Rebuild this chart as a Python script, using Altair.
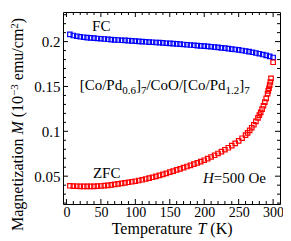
import altair as alt
import pandas as pd

# ---------------- data ----------------
fc_T = [5, 10, 15, 20, 25, 30, 35, 40, 45, 50, 55, 60, 65, 70, 75, 80, 85, 90, 95, 100,
        105, 110, 115, 120, 125, 130, 135, 140, 145, 150, 155, 160, 165, 170, 175, 180,
        185, 190, 195, 200, 205, 210, 215, 220, 225, 230, 235, 240, 245, 250, 255, 260,
        265, 270, 275, 280, 285, 290, 295, 300]
fc_M = [0.2080, 0.2068, 0.2060, 0.2054, 0.2049, 0.2045, 0.2041, 0.2038, 0.2035, 0.2032,
        0.2029, 0.2026, 0.2023, 0.2020, 0.2018, 0.2015, 0.2013, 0.2010, 0.2008, 0.2005,
        0.2003, 0.2000, 0.1998, 0.1995, 0.1993, 0.1990, 0.1988, 0.1985, 0.1982, 0.1980,
        0.1977, 0.1974, 0.1971, 0.1968, 0.1965, 0.1962, 0.1959, 0.1956, 0.1953, 0.1950,
        0.1946, 0.1943, 0.1939, 0.1935, 0.1931, 0.1927, 0.1922, 0.1917, 0.1912, 0.1907,
        0.1901, 0.1895, 0.1888, 0.1881, 0.1873, 0.1865, 0.1856, 0.1846, 0.1835, 0.1823]

zfc_T = [5, 10, 15, 20, 25, 30, 35, 40, 45, 50, 55, 60, 65, 70, 75, 80, 85, 90, 95, 100,
         105, 110, 115, 120, 125, 130, 135, 140, 145, 150, 155, 160, 165, 170, 175, 180,
         185, 190, 195, 200, 205, 210, 215, 220, 225, 230, 235, 240, 245, 250, 255, 260,
         263, 266, 269, 272, 275, 278, 280, 282, 284, 286, 288, 290, 292, 293, 294, 295,
         296, 297, 300]
zfc_M = [0.0393, 0.0390, 0.0388, 0.0387, 0.0386, 0.0386, 0.0386, 0.0387, 0.0389, 0.0391,
         0.0394, 0.0398, 0.0403, 0.0408, 0.0414, 0.0420, 0.0426, 0.0432, 0.0438, 0.0444,
         0.0452, 0.0460, 0.0469, 0.0478, 0.0488, 0.0498, 0.0509, 0.0520, 0.0532, 0.0545,
         0.0557, 0.0570, 0.0582, 0.0595, 0.0608, 0.0621, 0.0635, 0.0649, 0.0663, 0.0678,
         0.0695, 0.0714, 0.0733, 0.0753, 0.0774, 0.0795, 0.0817, 0.0840, 0.0865, 0.0893,
         0.0923, 0.0958, 0.0983, 0.1010, 0.1040, 0.1073, 0.1110, 0.1150, 0.1180, 0.1212,
         0.1247, 0.1285, 0.1325, 0.1368, 0.1420, 0.1450, 0.1480, 0.1515, 0.1550, 0.1590,
         0.1770]

x_major = [0, 50, 100, 150, 200, 250, 300]
x_minor = [10, 20, 30, 40, 60, 70, 80, 90, 110, 120, 130, 140, 160, 170, 180, 190,
           210, 220, 230, 240, 260, 270, 280, 290]
y_major = [0.05, 0.1, 0.15, 0.2]
y_minor = [0.02, 0.03, 0.04, 0.06, 0.07, 0.08, 0.09, 0.11, 0.12, 0.13, 0.14,
           0.16, 0.17, 0.18, 0.19, 0.21, 0.22, 0.23]

# ---------------- layout ----------------
W, H = 217, 192
FONT = "Liberation Serif"
BLUE, RED = "#0000ff", "#ff0000"

xs = alt.Scale(domain=[-5, 310], nice=False, zero=False)
ys = alt.Scale(domain=[0.019, 0.233], nice=False, zero=False)
xaxis = alt.Axis(values=x_major, ticks=False, domain=False, grid=False, title=None,
                 labelFont=FONT, labelFontSize=14, labelColor="black", labelPadding=1)
yaxis = alt.Axis(values=y_major, ticks=False, domain=False, grid=False, title=None,
                 format="~g", labelFont=FONT, labelFontSize=15, labelColor="black",
                 labelPadding=3)
X = alt.X("T:Q", scale=xs, axis=xaxis)
Y = alt.Y("M:Q", scale=ys, axis=yaxis)

fc = pd.DataFrame({"T": fc_T, "M": fc_M})
zfc = pd.DataFrame({"T": zfc_T, "M": zfc_M})

fc_layer = alt.Chart(fc).mark_point(shape="square", filled=False, size=20,
                                    strokeWidth=1.2, color=BLUE, opacity=1).encode(x=X, y=Y)
zfc_layer = alt.Chart(zfc).mark_point(shape="square", filled=False, size=20,
                                      strokeWidth=1.2, color=RED, opacity=1).encode(x=X, y=Y)

def xticks(vals, length):
    d = pd.DataFrame({"T": vals})
    b = alt.Chart(d).mark_rule(color="black", strokeWidth=1).encode(
        x=X, y=alt.value(H), y2=alt.value(H - length))
    t = alt.Chart(d).mark_rule(color="black", strokeWidth=1).encode(
        x=X, y=alt.value(0), y2=alt.value(length))
    return [b, t]

def yticks(vals, length):
    d = pd.DataFrame({"M": vals})
    l = alt.Chart(d).mark_rule(color="black", strokeWidth=1).encode(
        y=Y, x=alt.value(0), x2=alt.value(length))
    r = alt.Chart(d).mark_rule(color="black", strokeWidth=1).encode(
        y=Y, x=alt.value(W), x2=alt.value(W - length))
    return [l, r]

tick_layers = xticks(x_major, 5) + xticks(x_minor, 3) + yticks(y_major, 5) + yticks(y_minor, 3)

# --------- rich text helper (Times metrics) ---------
REG = {' ': .25, '(': .333, ')': .333, '[': .333, ']': .333, '/': .278, '.': .25,
       '=': .564, '\u2212': .564, 'M': .889, 'a': .444, 'g': .5, 'n': .5, 'e': .444,
       't': .278, 'i': .278, 'z': .444, 'o': .5, 'u': .5, 'm': .778, 'c': .444,
       'T': .611, 'p': .5, 'r': .333, 'K': .722, 'C': .667, 'P': .556, 'd': .5,
       'O': .722, 'F': .556, 'Z': .611, 'H': .722}
ITA = {'M': .833, 'T': .556, 'H': .722}

def width(s, size, italic=False):
    tab = ITA if italic else REG
    return sum(tab.get(ch, REG.get(ch, .5)) for ch in s) * size

def rich(pieces, data=None, px=None, angle=0):
    out = []
    dx = 0.0
    for txt, size, italic, dy in pieces:
        lead = len(txt) - len(txt.lstrip())
        shown = txt.strip()
        off = dx + width(txt[:lead], size, italic)
        mk = dict(text=shown, font=FONT, fontSize=size, align="left",
                  baseline="alphabetic", dx=off, dy=dy, color="black")
        if italic:
            mk["fontStyle"] = "italic"
        if angle:
            mk["angle"] = angle
        if data is not None:
            c = alt.Chart(pd.DataFrame(data)).mark_text(**mk).encode(x=X, y=Y)
        else:
            c = alt.Chart(pd.DataFrame({"k": [0]})).mark_text(**mk).encode(
                x=alt.value(px[0]), y=alt.value(px[1]))
        out.append(c)
        dx += width(txt, size, italic)
    return out

# annotations anchored in data coordinates
fc_label = alt.Chart(pd.DataFrame({"T": [50.5], "M": [0.2116]})).mark_text(
    text="FC", font=FONT, fontSize=15, align="center", baseline="alphabetic",
    color="black").encode(x=X, y=Y)
zfc_label = alt.Chart(pd.DataFrame({"T": [58.4], "M": [0.0478]})).mark_text(
    text="ZFC", font=FONT, fontSize=15, align="center", baseline="alphabetic",
    color="black").encode(x=X, y=Y)
field_label = rich([("H", 15, True, 0), ("=500 Oe", 15, False, 0)],
                   data={"T": [198.2], "M": [0.0427]})
sample_label = rich([("[Co/Pd", 15, False, 0), ("0.6", 11, False, 4),
                     ("]", 15, False, 0), ("7", 11, False, 4),
                     ("/CoO/[Co/Pd", 15, False, 0), ("1.2", 11, False, 4),
                     ("]", 15, False, 0), ("7", 11, False, 4)],
                    data={"T": [19.2], "M": [0.1464]})

# axis titles
x_title = rich([("Temperature ", 16, False, 0), ("T", 16, True, 0), (" (K)", 16, False, 0)],
               px=(48.7, 221.7))
y_title = rich([("Magnetization ", 16, False, 0), ("M", 16, True, 0),
                (" (10", 16, False, 0), ("\u22123", 11, False, -5),
                (" emu/cm", 16, False, 0), ("2", 11, False, -5), (")", 16, False, 0)],
               px=(-40.0, 219.0), angle=270)

chart = alt.layer(
    *tick_layers, fc_layer, zfc_layer, fc_label, zfc_label,
    *field_label, *sample_label, *x_title, *y_title
).properties(
    width=W, height=H, autosize="none",
    padding={"left": 55, "top": 4, "right": 3, "bottom": 34},
    background="white"
).configure_view(stroke="black", strokeWidth=1)

chart.save("out.html", embed_options={"renderer": "svg", "actions": False})
